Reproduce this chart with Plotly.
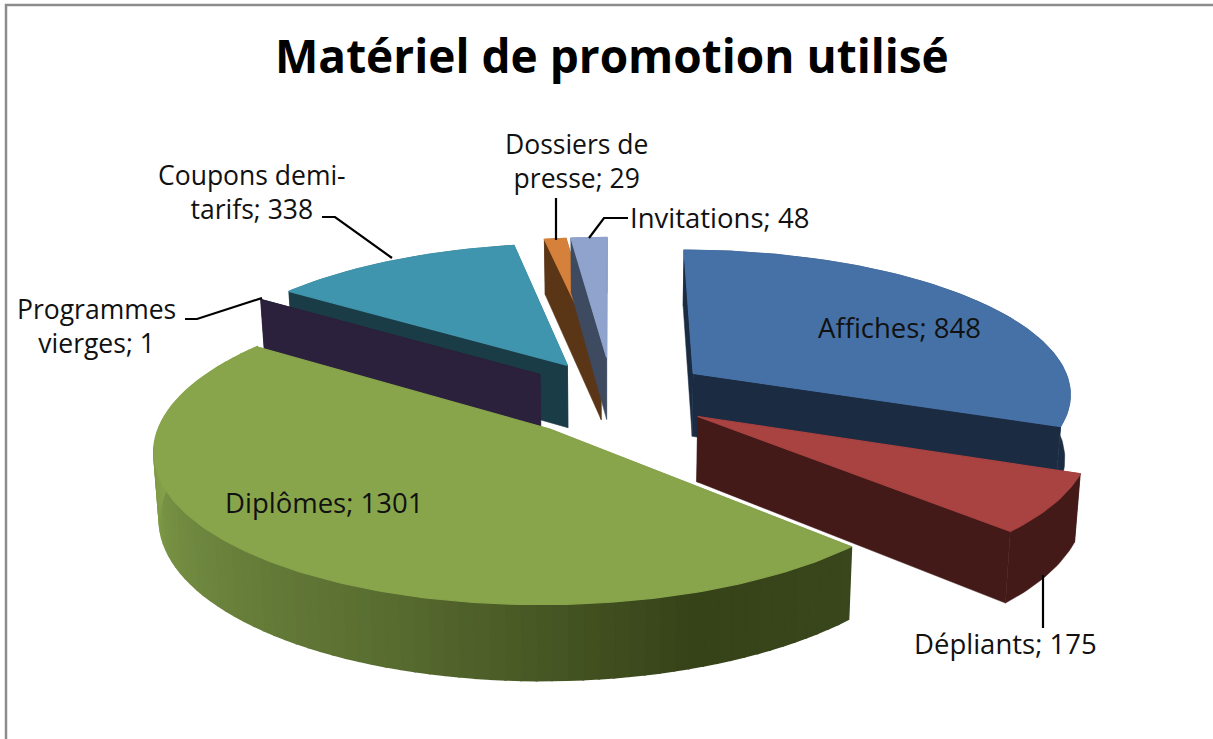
import math
import plotly.graph_objects as go

# --- data ---
categories = ["Affiches", "Dépliants", "Diplômes", "Programmes vierges",
              "Coupons demi-tarifs", "Dossiers de presse", "Invitations"]
values = [848, 175, 1301, 1, 338, 29, 48]
title_text = "Matériel de promotion utilisé"

# --- styles ---
top_colors = ["#4671a6", "#a84341", "#88a54c", "#2c213c", "#4095ae", "#d6813b", "#8fa3cc"]
wall_colors = ["#1a2b42", "#431a18", "#4f6229", "#2c213c", "#1a3c47", "#5a3516", "#3e4a60"]
pulls_x = [0.27, 0.27, 0.24, 0.23, 0.215, 0.17, 0.17]
pulls_y = [0.27, 0.27, 0.30, 0.25, 0.25, 0.27, 0.27]
draw_order = [4, 5, 6, 3, 0, 1, 2]
# green wall gradient stops: (angle degrees, rgb)
grad_stops = [(134, (58, 71, 28)), (160, (54, 66, 24)), (200, (88, 108, 48)),
              (240, (113, 138, 64)), (270, (132, 160, 74)), (306, (136, 165, 76))]

# --- projection of the 3D pie ---
CX, CY, RX, RY, K, H = 610, 395, 380, 144, 0.126, 64


def project(x, y, z=0.0):
    s = 1 / (1 + K * y)
    return CX + RX * x * s * (1 - 0.012 * z), CY + (-RY * y + H * z) * s


def poly(fig, pts, color, name, width=1.0):
    xs = [p[0] for p in pts] + [pts[0][0]]
    ys = [p[1] for p in pts] + [pts[0][1]]
    fig.add_trace(go.Scatter(x=xs, y=ys, mode="lines", fill="toself", fillcolor=color,
                             line=dict(color=color, width=width), name=name,
                             hoverinfo="name", showlegend=False))


def grad(theta):
    for (a0, c0), (a1, c1) in zip(grad_stops, grad_stops[1:]):
        if a0 <= theta <= a1:
            t = (theta - a0) / (a1 - a0)
            return "rgb(%d,%d,%d)" % tuple(round(u + (v - u) * t) for u, v in zip(c0, c1))
    return "rgb(%d,%d,%d)" % grad_stops[-1][1]


fig = go.Figure()
total = sum(values)
starts, acc = [], 0
for v in values:
    starts.append(acc / total * 360)
    acc += v

for i in draw_order:
    a0 = starts[i]
    a1 = a0 + values[i] / total * 360
    mid = math.radians((a0 + a1) / 2)
    ox, oy = pulls_x[i] * math.sin(mid), pulls_y[i] * math.cos(mid)
    n = max(2, int(a1 - a0))
    angles = [a0 + (a1 - a0) * j / n for j in range(n + 1)]
    rim = [(ox + math.sin(math.radians(t)), oy + math.cos(math.radians(t))) for t in angles]
    name = categories[i]
    wall = wall_colors[i]
    # radial walls
    for p in (rim[0], rim[-1]):
        poly(fig, [project(ox, oy), project(*p), project(*p, 1), project(ox, oy, 1)], wall, name, 0.5)
    # outer wall
    if i == 2:
        step = 2
        for j in range(0, n, step):
            k = min(j + step, n)
            c = grad((angles[j] + angles[k]) / 2)
            poly(fig, [project(*p) for p in rim[j:k + 1]] +
                 [project(*p, 1) for p in reversed(rim[j:k + 1])], c, name, 2.0)
    else:
        poly(fig, [project(*p) for p in rim] + [project(*p, 1) for p in reversed(rim)], wall, name, 0.5)
    # top face
    poly(fig, [project(ox, oy)] + [project(*p) for p in rim], top_colors[i], name, 1.2)

# --- labels ---
FONT = "Open Sans"
labels = [
    ("Dossiers de<br>presse; 29", 576, 161, 26.5),
    ("Coupons demi-<br>tarifs; 338", 252, 192, 26.5),
    ("Programmes<br>vierges; 1", 96, 326, 26.5),
    ("Invitations; 48", 719, 217, 27.5),
    ("Affiches; 848", 899, 327, 27.5),
    ("Diplômes; 1301", 324, 502, 27.5),
    ("Dépliants; 175", 1005, 643, 27.5),
]
annotations = [dict(x=x, y=y, xref="x", yref="y", text=t, showarrow=False,
                    font=dict(family=FONT, size=sz, color="#111111"), align="center")
               for t, x, y, sz in labels]
annotations.append(dict(x=612, y=55, xref="x", yref="y", text="<b>%s</b>" % title_text,
                        showarrow=False, font=dict(family=FONT, size=46, color="#000000")))

leaders = ["M322 217 L335 217 L392 258", "M185 319 L197 319 L262 298",
           "M556 198 L556 240", "M628 218 L604 218 L589 238", "M1043 575 L1043 628"]
shapes = [dict(type="path", path=p, xref="x", yref="y", line=dict(color="#000000", width=2.2))
          for p in leaders]
shapes.append(dict(type="path", path="M6 739 L6 5 L1213 5", xref="x", yref="y",
                   line=dict(color="#8c8c8c", width=2.5)))

fig.update_layout(
    width=1213, height=739, margin=dict(l=0, r=0, t=0, b=0),
    paper_bgcolor="white", plot_bgcolor="white", showlegend=False,
    xaxis=dict(range=[0, 1213], visible=False, fixedrange=True),
    yaxis=dict(range=[739, 0], visible=False, fixedrange=True),
    annotations=annotations, shapes=shapes,
)
fig.write_html("out.html", config={"displayModeBar": False},
               post_script="document.body.style.margin='0';document.documentElement.style.overflow='hidden';")
